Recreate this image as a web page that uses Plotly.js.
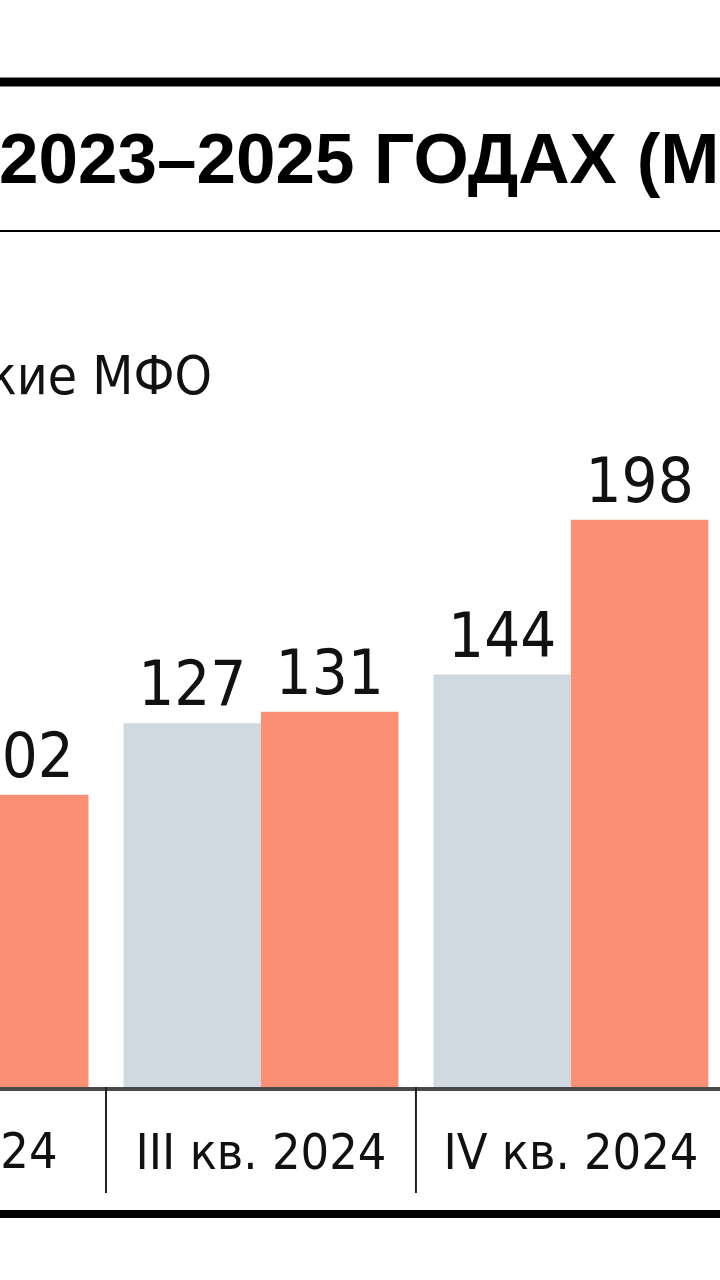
<!DOCTYPE html>
<html>
<head>
<meta charset="utf-8">
<script src="https://cdn.plot.ly/plotly-3.0.1.min.js"></script>
<style>
  html, body { margin: 0; padding: 0; background: #fff; }
  #chart { width: 720px; height: 1280px; }
</style>
</head>
<body>
<div id="chart"></div>
<script>
"use strict";

// data
const categories = ["II кв. 2024", "III кв. 2024", "IV кв. 2024"];
const greyValues = [null, 127, 144];
const orangeValues = [102, 131, 198];

const titleText = "2023–2025 ГОДАХ (М";
const legendText = "кие МФО";

const narrow = "'Liberation Sans Narrow', 'DejaVu Sans Condensed', sans-serif";

// plot area in pixels
const W = 720, H = 1280;
const plotTop = 240, plotBottom = 1087;
const plotH = plotBottom - plotTop;
// paper y from a pixel row
const py = (px) => (plotBottom - px) / plotH;

const valueFont = { family: narrow, size: 63, color: "#111" };
const tickFont = { family: narrow, size: 50, color: "#111" };

const data = [
  {
    type: "bar",
    x: categories,
    y: greyValues,
    marker: { color: "#cfd9df" },
    text: greyValues.map((v) => (v == null ? "" : String(v))),
    textposition: "outside",
    textfont: valueFont,
    cliponaxis: false,
    hoverinfo: "skip",
  },
  {
    type: "bar",
    x: categories,
    y: orangeValues,
    marker: { color: "#fa8f74" },
    text: orangeValues.map((v) => String(v)),
    textposition: "outside",
    textfont: valueFont,
    cliponaxis: false,
    hoverinfo: "skip",
  },
];

const hline = (px, width) => ({
  type: "line",
  xref: "paper",
  yref: "paper",
  x0: -0.01,
  x1: 1.01,
  y0: py(px),
  y1: py(px),
  line: { color: "#000", width },
});

// separators between quarters, under the axis
const separators = [0.5, 1.5].map((x) => ({
  type: "line",
  xref: "x",
  yref: "paper",
  x0: x,
  x1: x,
  y0: py(plotBottom),
  y1: py(1193),
  line: { color: "#222", width: 2 },
}));

const layout = {
  width: W,
  height: H,
  margin: { l: 0, r: 0, t: plotTop, b: H - plotBottom },
  paper_bgcolor: "#fff",
  plot_bgcolor: "#fff",
  showlegend: false,
  barmode: "group",
  bargap: 0.113,
  bargroupgap: 0,
  xaxis: {
    type: "category",
    range: [0.158, 2.481],
    showline: true,
    linecolor: "#4a4a4a",
    linewidth: 4,
    ticks: "",
    showgrid: false,
    zeroline: false,
    tickfont: tickFont,
    ticklabelstandoff: 18,
    fixedrange: true,
  },
  yaxis: {
    range: [0, 295.7],
    visible: false,
    showgrid: false,
    zeroline: false,
    fixedrange: true,
  },
  shapes: [hline(82, 9), hline(231, 2), hline(1214, 8), ...separators],
  annotations: [
    {
      xref: "paper",
      yref: "paper",
      x: -0.004,
      y: py(158),
      xanchor: "left",
      yanchor: "middle",
      showarrow: false,
      text: titleText,
      font: { family: "'Liberation Sans', Arial, sans-serif", size: 71, weight: 700, color: "#000" },
    },
    {
      xref: "paper",
      yref: "paper",
      x: 214 / W,
      y: py(375),
      xanchor: "right",
      yanchor: "middle",
      showarrow: false,
      text: legendText,
      font: { family: narrow, size: 53, color: "#111" },
    },
    {
      // first quarter label sits left of the view, so the axis drops it
      xref: "x",
      yref: "paper",
      x: 0.5,
      xshift: -46,
      y: py(1151),
      xanchor: "right",
      yanchor: "middle",
      showarrow: false,
      text: categories[0],
      font: tickFont,
    },
  ],
};

Plotly.newPlot("chart", data, layout, { staticPlot: true, displayModeBar: false });
</script>
</body>
</html>
